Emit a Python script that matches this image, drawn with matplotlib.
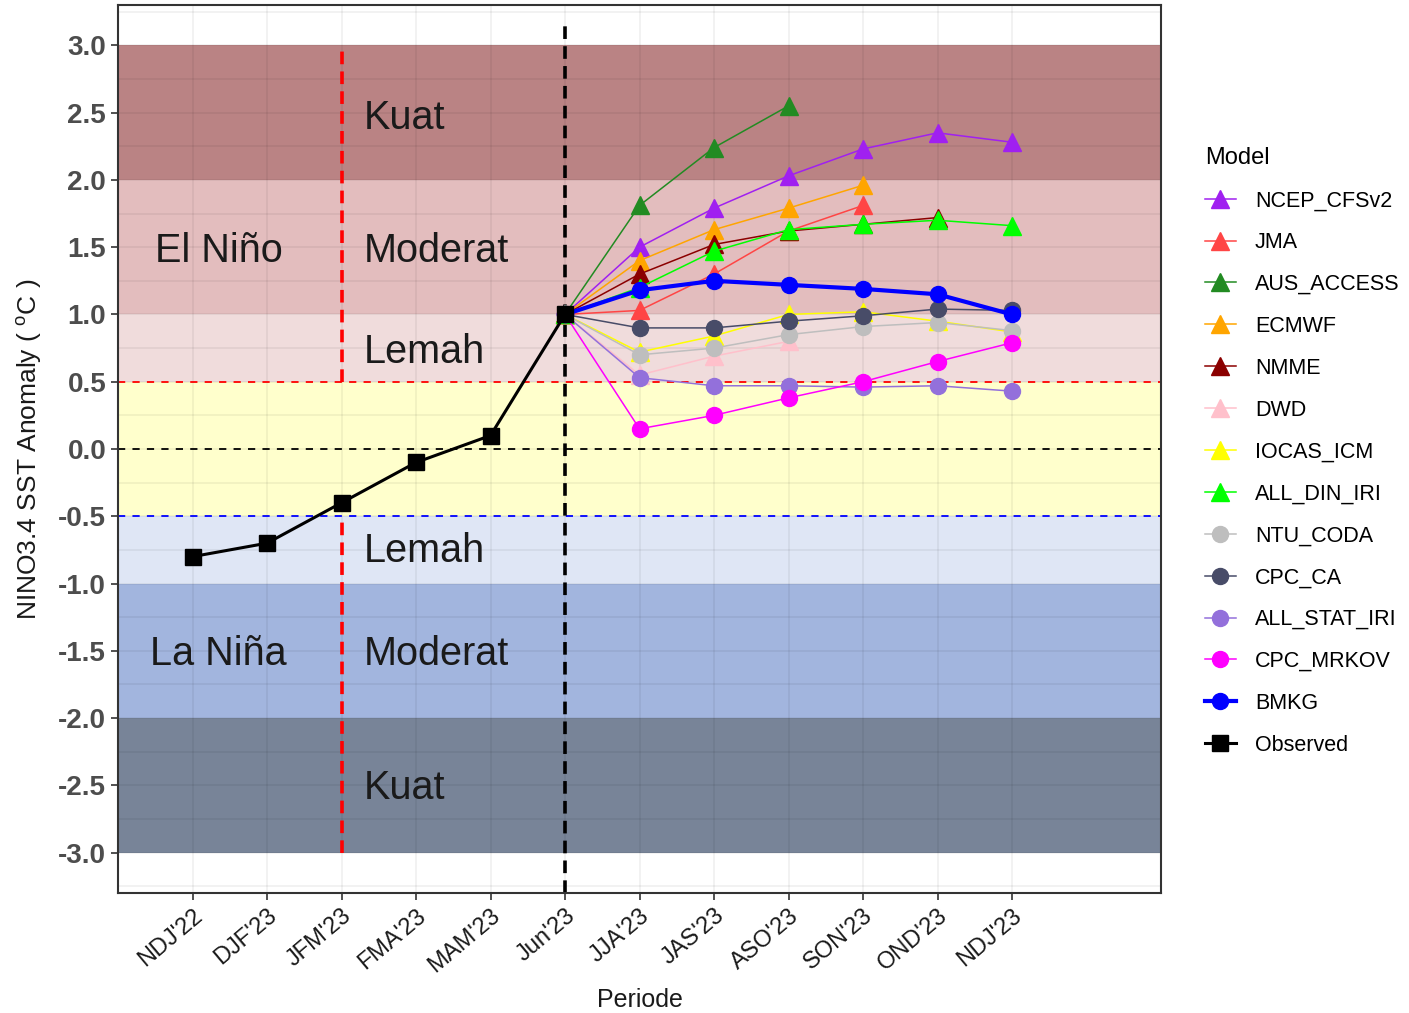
import numpy as np
import matplotlib
matplotlib.use("Agg")
import matplotlib.pyplot as plt
from matplotlib.lines import Line2D

plt.rcParams['font.family'] = ['Liberation Sans', 'DejaVu Sans']
plt.rcParams['mathtext.fontset'] = 'custom'
plt.rcParams['mathtext.rm'] = 'Liberation Sans'

# data
periods = ["NDJ'22", "DJF'23", "JFM'23", "FMA'23", "MAM'23", "Jun'23",
           "JJA'23", "JAS'23", "ASO'23", "SON'23", "OND'23", "NDJ'23"]
observed = [-0.8, -0.7, -0.4, -0.1, 0.1, 1.0]

# forecasts start at Jun'23
ncep = [1.0, 1.5, 1.79, 2.03, 2.23, 2.35, 2.28]
jma = [1.0, 1.03, 1.3, 1.62, 1.81]
aus = [1.0, 1.81, 2.24, 2.55]
ecmwf = [1.0, 1.4, 1.63, 1.79, 1.96]
nmme = [1.0, 1.3, 1.52, 1.62, 1.67, 1.72]
dwd = [1.0, 0.55, 0.69, 0.8]
iocas = [1.0, 0.72, 0.84, 1.0, 1.02, 0.95, 0.87]
all_din = [1.0, 1.2, 1.47, 1.63, 1.67, 1.7, 1.66]
ntu = [1.0, 0.7, 0.75, 0.85, 0.91, 0.94, 0.88]
cpc_ca = [1.0, 0.9, 0.9, 0.95, 0.99, 1.04, 1.03]
all_stat = [1.0, 0.53, 0.47, 0.47, 0.46, 0.47, 0.43]
cpc_mrkov = [1.0, 0.15, 0.25, 0.38, 0.5, 0.65, 0.79]
bmkg = [1.0, 1.18, 1.25, 1.22, 1.19, 1.15, 1.0]

models = [
    ("NCEP_CFSv2", ncep, "#A020F0", "^"),
    ("JMA", jma, "#FF4545", "^"),
    ("AUS_ACCESS", aus, "#228B22", "^"),
    ("ECMWF", ecmwf, "#FFA500", "^"),
    ("NMME", nmme, "#8B0000", "^"),
    ("DWD", dwd, "#FFC0CB", "^"),
    ("IOCAS_ICM", iocas, "#FFFF00", "^"),
    ("ALL_DIN_IRI", all_din, "#00FF00", "^"),
    ("NTU_CODA", ntu, "#BEBEBE", "o"),
    ("CPC_CA", cpc_ca, "#484C68", "o"),
    ("ALL_STAT_IRI", all_stat, "#9370DB", "o"),
    ("CPC_MRKOV", cpc_mrkov, "#FF00FF", "o"),
    ("BMKG", bmkg, "#0000FF", "o"),
]

# category bands (ymin, ymax, colour)
bands = [(2, 3, "#BA8384"), (1, 2, "#E3BDBE"), (0.5, 1, "#F0DCDC"),
         (-0.5, 0.5, "#FFFFCC"), (-1, -0.5, "#DFE6F5"),
         (-2, -1, "#A2B5DE"), (-3, -2, "#788498")]

fig = plt.figure(figsize=(14.09, 10.13), dpi=100)
ax = fig.add_axes([118/1409, 1-893/1013, (1161-118)/1409, (893-5)/1013])

x = np.arange(len(periods))
x0 = periods.index("Jun'23")

for lo, hi, c in bands:
    ax.axhspan(lo, hi, color=c, lw=0, zorder=0)

# grid on top of the bands, faint
for yv in np.arange(-3.25, 3.3, 0.25):
    ax.axhline(yv, color="black", alpha=0.06, lw=1.2, zorder=1)
for xv in x:
    ax.axvline(xv, color="black", alpha=0.06, lw=1.2, zorder=1)

# reference lines
ax.axhline(0.5, color="red", ls=(0, (4, 4)), lw=1.3, zorder=2)
ax.axhline(0, color="black", ls=(0, (4, 4)), lw=1.3, zorder=2)
ax.axhline(-0.5, color="blue", ls=(0, (4, 4)), lw=1.3, zorder=2)
ax.vlines(2, 0.5, 3, color="red", ls=(0, (3.5, 2)), lw=2.6, zorder=2)
ax.vlines(2, -3, -0.5, color="red", ls=(0, (3.5, 2)), lw=2.6, zorder=2)
ax.vlines(x0, -3.3, 3.16, color="black", ls=(0, (3.5, 2)), lw=2.6, zorder=2)

# labels in the bands
tk = dict(fontsize=28.5, color="#1a1a1a", va="center", zorder=3)
for yv, s in [(2.46, "Kuat"), (1.47, "Moderat"), (0.72, "Lemah"),
              (-0.76, "Lemah"), (-1.52, "Moderat"), (-2.52, "Kuat")]:
    ax.text(2.3, yv, s, ha="left", **tk)
ax.text(0.35, 1.47, "El Niño", ha="center", **tk)
ax.text(0.35, -1.52, "La Niña", ha="center", **tk)

handles = []
for name, vals, c, m in models:
    xs = x[x0:x0 + len(vals)]
    lw = 3.0 if name == "BMKG" else 1.1
    ms = 13 if m == "^" else 11.5
    ax.plot(xs, vals, color=c, lw=lw, marker=m, ms=ms, zorder=4 if name != "BMKG" else 5)
    handles.append(Line2D([], [], color=c, lw=lw, marker=m, ms=ms, label=name))

ax.plot(x[:len(observed)], observed, color="black", lw=2.2, marker="s", ms=11, zorder=6)
handles.append(Line2D([], [], color="black", lw=2.2, marker="s", ms=11, label="Observed"))

ax.set_xlim(-1, 13)
ax.set_ylim(-3.3, 3.3)
ax.set_yticks(np.arange(-3, 3.01, 0.5))
ax.set_yticklabels([f"{v:.1f}" for v in np.arange(-3, 3.01, 0.5)],
                   fontsize=20, fontweight="bold", color="#4D4D4D")
ax.set_xticks(x)
ax.set_xticklabels(periods, rotation=40, ha="right", rotation_mode="anchor",
                   fontsize=17, color="#1a1a1a")
ax.tick_params(axis="both", direction="out", length=5, width=1.2, color="#333333")
for sp in ax.spines.values():
    sp.set_color("#333333")
    sp.set_linewidth(1.5)

ax.set_xlabel("Periode", fontsize=18, color="#1a1a1a", labelpad=8)
ax.set_ylabel(r"NINO3.4 SST Anomaly ( $^{\mathrm{o}}$C )", fontsize=19,
              color="#1a1a1a", labelpad=10)

leg = fig.legend(handles=handles, title="Model", loc="upper left",
                 bbox_to_anchor=(1186/1409, 1-128/1013), frameon=False,
                 fontsize=15.5, title_fontsize=17, labelspacing=0.97,
                 handlelength=1.4, handletextpad=0.9)
leg._legend_box.align = "left"

fig.savefig("out.png", dpi=100)
